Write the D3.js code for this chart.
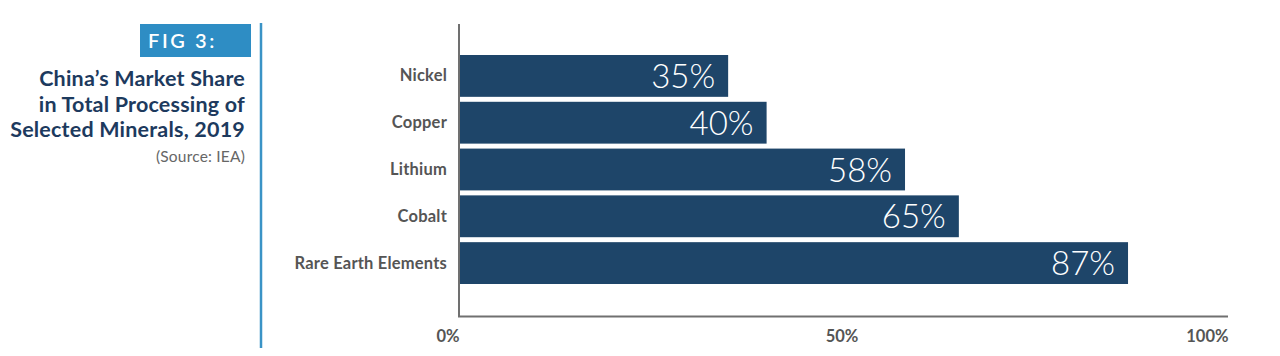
<!DOCTYPE html>
<html><head><meta charset="utf-8">
<script src="https://cdn.jsdelivr.net/npm/d3@7/dist/d3.min.js"></script>
<style>
body{margin:0;background:#fff;}
svg{display:block;font-family:Lato,"Open Sans",sans-serif;}
</style></head>
<body><svg id="c" width="1280" height="356"></svg>
<script>
const categories = ["Nickel","Copper","Lithium","Cobalt","Rare Earth Elements"];
const shares = [35,40,58,65,87];
const tickValues = [0,50,100];
const tickLabels = ["0%","50%","100%"];
const titleLines = ["China\u2019s Market Share","in Total Processing of","Selected Minerals, 2019"];

const svg = d3.select("#c");
const x = d3.scaleLinear().domain([0,100]).range([459,1228]);
const y = d3.scaleBand().domain(categories).range([55,284]).paddingInner(0.106).paddingOuter(0);

// Left title panel
svg.append("line").attr("x1",261).attr("x2",261).attr("y1",23).attr("y2",348)
  .attr("stroke","#3a93c6").attr("stroke-width",2.5);
svg.append("rect").attr("x",140).attr("y",24).attr("width",111).attr("height",33).attr("fill","#2e8dc4");
svg.append("text").attr("x",148).attr("y",48).attr("fill","#fff")
  .attr("font-size",20).attr("font-weight",600).attr("letter-spacing",2.6).text("FIG 3:");
svg.selectAll("text.tl").data(titleLines).join("text").attr("class","tl")
  .attr("x",245).attr("y",(d,i)=>86+i*25.5).attr("text-anchor","end")
  .attr("fill","#1d3a5e").attr("font-size",21.5).attr("font-weight",700).attr("letter-spacing",0.2).text(d=>d);
svg.append("text").attr("x",245).attr("y",162).attr("text-anchor","end")
  .attr("fill","#666").attr("font-size",15.5).attr("letter-spacing",0.2).text("(Source: IEA)");

// Bars
svg.selectAll("rect.bar").data(categories).join("rect").attr("class","bar")
  .attr("x",x(0)).attr("y",d=>y(d)).attr("height",y.bandwidth())
  .attr("width",(d,i)=>x(shares[i])-x(0)).attr("fill","#1e4569");
svg.selectAll("text.val").data(categories).join("text").attr("class","val")
  .attr("x",(d,i)=>x(shares[i])-13).attr("y",d=>y(d)+y.bandwidth()/2+12)
  .attr("text-anchor","end").attr("fill","#fff").attr("font-size",33).attr("font-weight",300)
  .text((d,i)=>shares[i]+"%");

// Category labels
svg.selectAll("text.cat").data(categories).join("text").attr("class","cat")
  .attr("x",447).attr("y",d=>y(d)+y.bandwidth()/2+5.5)
  .attr("text-anchor","end").attr("fill","#555").attr("font-size",16.5).attr("font-weight",700)
  .attr("letter-spacing",0.2).text(d=>d);

// Axes lines
svg.append("line").attr("x1",x(0)).attr("x2",x(0)).attr("y1",24).attr("y2",317)
  .attr("stroke","#707070").attr("stroke-width",2);
svg.append("line").attr("x1",x(0)-1).attr("x2",x(100)).attr("y1",316.5).attr("y2",316.5)
  .attr("stroke","#707070").attr("stroke-width",2);

// X tick labels via axis
const xAxis = d3.axisBottom(x).tickValues(tickValues).tickSize(0).tickFormat((d,i)=>tickLabels[i]);
const gx = svg.append("g").attr("transform","translate(0,330)").call(xAxis);
gx.select(".domain").remove();
gx.selectAll("text").attr("fill","#555").attr("font-size",16.5).attr("font-weight",700)
  .attr("font-family","Lato,sans-serif").attr("dy","0.55em")
  .attr("text-anchor",(d,i)=>i===1?"middle":"end")
  .attr("dx",(d,i)=>i===1?"-2":"0");
</script></body></html>
